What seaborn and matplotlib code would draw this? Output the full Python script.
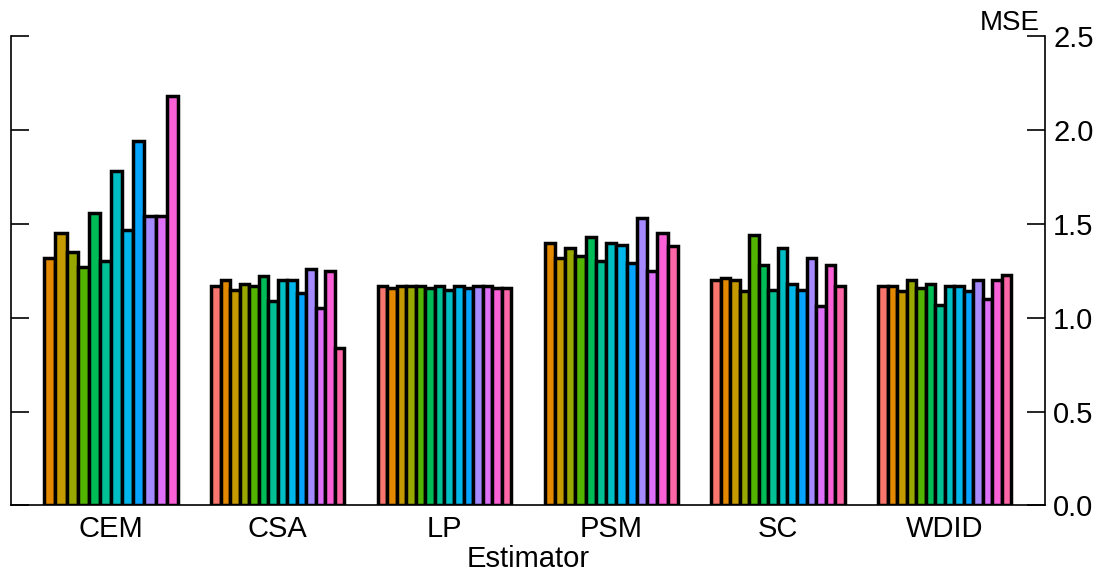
import matplotlib
matplotlib.use("Agg")
import matplotlib.pyplot as plt
import numpy as np
import pandas as pd
import seaborn as sns

# ---- data -------------------------------------------------------------
estimators = ["CEM", "CSA", "LP", "PSM", "SC", "WDID"]
levels = [str(i) for i in range(1, 15)]
colors = ["#F8766D", "#E38900", "#C49A00", "#99A800", "#53B400", "#00BC56", "#00C094",
          "#00BFC4", "#00B6EB", "#06A4FF", "#A58AFF", "#DF70F8", "#FB61D7", "#FF66A8"]

cem = [np.nan, 1.32, 1.45, 1.35, 1.27, 1.56, 1.30, 1.78, 1.47, 1.94, 1.54, 1.54, 2.18, np.nan]
csa = [1.17, 1.20, 1.15, 1.18, 1.17, 1.22, 1.09, 1.20, 1.20, 1.13, 1.26, 1.05, 1.25, 0.84]
lp = [1.17, 1.16, 1.17, 1.17, 1.17, 1.16, 1.17, 1.15, 1.17, 1.16, 1.17, 1.17, 1.16, 1.16]
psm = [np.nan, 1.40, 1.32, 1.37, 1.33, 1.43, 1.30, 1.40, 1.39, 1.29, 1.53, 1.25, 1.45, 1.38]
sc = [1.20, 1.21, 1.20, 1.14, 1.44, 1.28, 1.15, 1.37, 1.18, 1.15, 1.32, 1.06, 1.28, 1.17]
wdid = [1.17, 1.17, 1.14, 1.20, 1.16, 1.18, 1.07, 1.17, 1.17, 1.14, 1.20, 1.10, 1.20, 1.23]

yticks = [0.0, 0.5, 1.0, 1.5, 2.0, 2.5]
ytick_labels = ["0.0", "0.5", "1.0", "1.5", "2.0", "2.5"]

series = {"CEM": cem, "CSA": csa, "LP": lp, "PSM": psm, "SC": sc, "WDID": wdid}
rows = []
for i, est in enumerate(estimators):
    for lev, v in zip(levels, series[est]):
        rows.append({"Estimator": est, "pos": i, "level": lev, "MSE": v})
df = pd.DataFrame(rows)
pal = dict(zip(levels, colors))

# ---- plot -------------------------------------------------------------
sns.set_style("ticks")
plt.rcParams["font.family"] = ["Liberation Sans", "DejaVu Sans"]
plt.rcParams["text.color"] = "black"
plt.rcParams["xtick.color"] = "black"
plt.rcParams["ytick.color"] = "black"
plt.rcParams["axes.labelcolor"] = "black"

fig = plt.figure(figsize=(11.02, 5.75), dpi=100)
ax = fig.add_axes([0.010, 0.121, 0.938, 0.816])

for est in estimators:
    sub = df[(df["Estimator"] == est)].dropna(subset=["MSE"])
    present = [l for l in levels if l in set(sub["level"])]
    sns.barplot(data=sub, x="pos", y="MSE", hue="level", hue_order=present,
                palette=pal, native_scale=True, width=0.8, dodge=True,
                errorbar=None, saturation=1, edgecolor="black", linewidth=2.5,
                legend=False, ax=ax)

ax.set_xlim(-0.6, 5.6)
ax.set_ylim(0, 2.5)
ax.set_xticks(range(len(estimators)))
ax.set_xticklabels(estimators, fontsize=21)
ax.set_yticks(yticks)
ax.set_yticklabels(ytick_labels, fontsize=21)

ax.tick_params(axis="x", length=0, pad=7)
ax.tick_params(axis="y", left=True, right=True, labelleft=False, labelright=True,
               direction="in", length=13, width=1.2, pad=6)

ax.spines["top"].set_visible(False)
for s in ["left", "right", "bottom"]:
    ax.spines[s].set_visible(True)
    ax.spines[s].set_linewidth(1.2)
    ax.spines[s].set_color("black")

ax.set_xlabel("Estimator", fontsize=21, labelpad=1)
ax.set_ylabel("")
ax.text(0.995, 1.0, "MSE", transform=ax.transAxes, ha="right", va="bottom", fontsize=20)

fig.savefig("out.png", dpi=100)
